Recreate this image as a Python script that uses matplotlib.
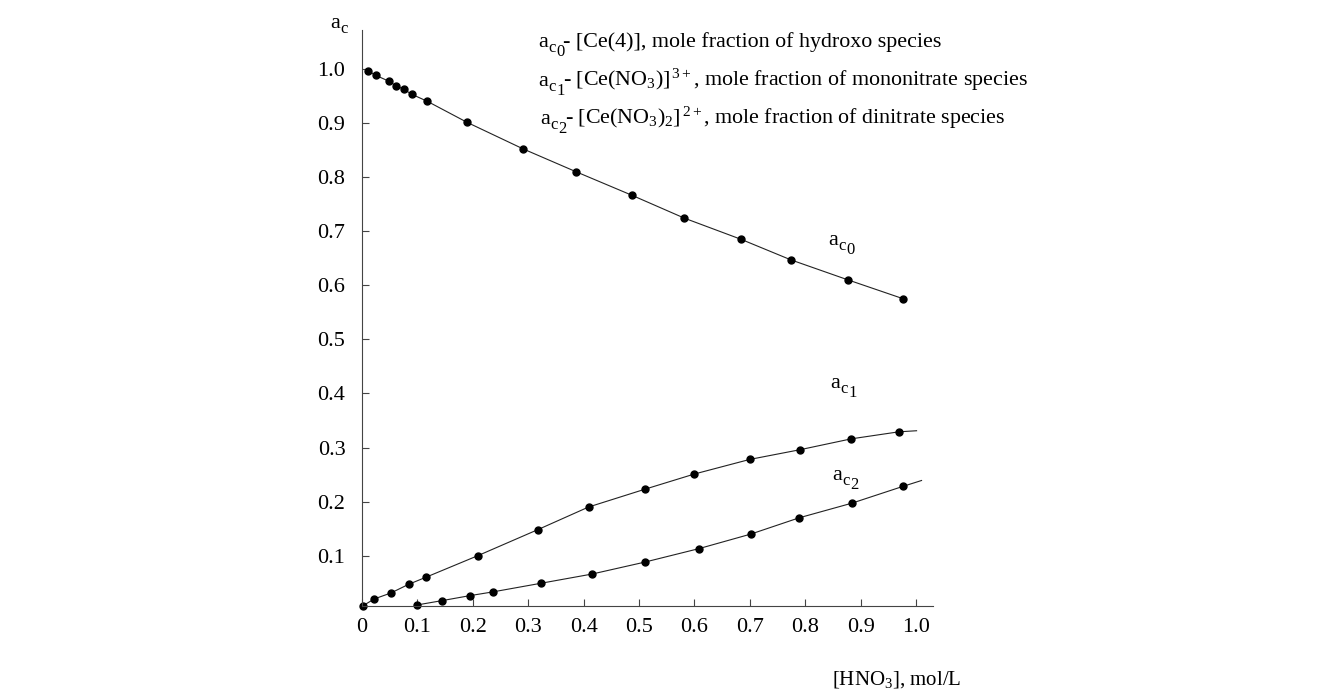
import numpy as np
import matplotlib
matplotlib.use('Agg')
import matplotlib.pyplot as plt

plt.rcParams['font.family'] = ['Liberation Serif', 'DejaVu Serif']
plt.rcParams['mathtext.fontset'] = 'custom'
plt.rcParams['mathtext.rm'] = 'Liberation Serif'
plt.rcParams['mathtext.it'] = 'Liberation Serif:italic'

# 1. data
# a_c0 : hydroxo species
x0 = [0.010, 0.025, 0.049, 0.061, 0.076, 0.090, 0.118, 0.190, 0.291,
      0.386, 0.488, 0.582, 0.684, 0.774, 0.877, 0.977]
y0 = [0.997, 0.988, 0.977, 0.969, 0.962, 0.953, 0.940, 0.901, 0.852,
      0.810, 0.766, 0.724, 0.685, 0.647, 0.610, 0.575]

# a_c1 : mononitrate species
x1 = [0.001, 0.022, 0.052, 0.084, 0.115, 0.209, 0.317, 0.409, 0.511,
      0.600, 0.700, 0.791, 0.883, 0.969]
y1 = [0.007, 0.020, 0.031, 0.047, 0.060, 0.100, 0.148, 0.190, 0.223,
      0.251, 0.278, 0.296, 0.316, 0.329]

# a_c2 : dinitrate species
x2 = [0.100, 0.145, 0.194, 0.236, 0.323, 0.415, 0.510, 0.608, 0.702,
      0.789, 0.884, 0.976]
y2 = [0.009, 0.017, 0.026, 0.033, 0.049, 0.066, 0.088, 0.113, 0.140,
      0.170, 0.197, 0.228]

# end of the fitted curves (they run a bit past the last point)
x1_end, y1_end = 1.001, 0.331
x2_end, y2_end = 1.010, 0.239

xticks = [0, 0.1, 0.2, 0.3, 0.4, 0.5, 0.6, 0.7, 0.8, 0.9, 1.0]
xlabels = ['0', '0.1', '0.2', '0.3', '0.4', '0.5', '0.6', '0.7', '0.8', '0.9', '1.0']
yticks = [0.1, 0.2, 0.3, 0.4, 0.5, 0.6, 0.7, 0.8, 0.9, 1.0]
ylabels = ['0.1', '0.2', '0.3', '0.4', '0.5', '0.6', '0.7', '0.8', '0.9', '1.0']

legend_rest = ['- [Ce(4)], mole fraction of hydroxo species',
               r'- [Ce(NO$_3$)]$^{\,3+}$, mole fraction of mononitrate species',
               r'- [Ce(NO$_3$)$_2$]$^{\,2+}$, mole fraction of dinitrate species']

# 2. figure
fig = plt.figure(figsize=(13.35, 6.89), dpi=100)
ax = fig.add_axes([0.2712, 0.1205, 0.4274, 0.836])
ax.set_xlim(0, 1.03)
ax.set_ylim(0.007, 1.072)

lc = '#222222'
ax.plot(x0, y0, '-', color=lc, lw=0.8)
ax.plot(x1 + [x1_end], y1 + [y1_end], '-', color=lc, lw=0.8)
ax.plot(x2 + [x2_end], y2 + [y2_end], '-', color=lc, lw=0.8)
for xs, ys in [(x0, y0), (x1, y1), (x2, y2)]:
    ax.plot(xs, ys, 'o', color='black', ms=5, clip_on=False)

# axes look
for s in ['top', 'right']:
    ax.spines[s].set_visible(False)
for s in ['left', 'bottom']:
    ax.spines[s].set_color('#444444')
    ax.spines[s].set_linewidth(0.8)
ax.set_xticks(xticks)
ax.set_xticklabels(xlabels)
ax.set_yticks(yticks)
ax.set_yticklabels(ylabels)
ax.tick_params(direction='in', length=5, width=0.8, color='#444444', labelsize=16)
ax.tick_params(axis='x', pad=9)
ax.tick_params(axis='y', pad=12)


# a_c with a second level subscript, drawn piece by piece
# (mathtext makes the inner digit too small)
def a_label(x, y, digit, tr, fs):
    ax.annotate('a', (x, y), xycoords=tr, fontsize=fs, annotation_clip=False)
    ax.annotate('c', (x, y), xycoords=tr, xytext=(0.46 * fs, -0.22 * fs),
                textcoords='offset points', fontsize=0.75 * fs, annotation_clip=False)
    if digit != '':
        ax.annotate(digit, (x, y), xycoords=tr, xytext=(0.84 * fs, -0.42 * fs),
                    textcoords='offset points', fontsize=0.75 * fs, annotation_clip=False)


# 3. texts
fs = 16
a_label(-0.058, 1.076, '', ax.transData, fs)
a_label(0.841, 0.675, '0', ax.transData, fs)
a_label(0.845, 0.410, '1', ax.transData, fs)
a_label(0.848, 0.240, '2', ax.transData, fs)

lx = [538, 538, 540]
ly = [47, 86, 124]
for i in range(3):
    a_label(lx[i] / 1335, 1 - ly[i] / 689, str(i), fig.transFigure, 16)
    fig.text((lx[i] + 25) / 1335, 1 - ly[i] / 689, legend_rest[i], fontsize=15.8)

fig.text(832 / 1335, 1 - 684 / 689, r'[HNO$_3$], mol/L', fontsize=15)

fig.savefig('out.png', dpi=100)
